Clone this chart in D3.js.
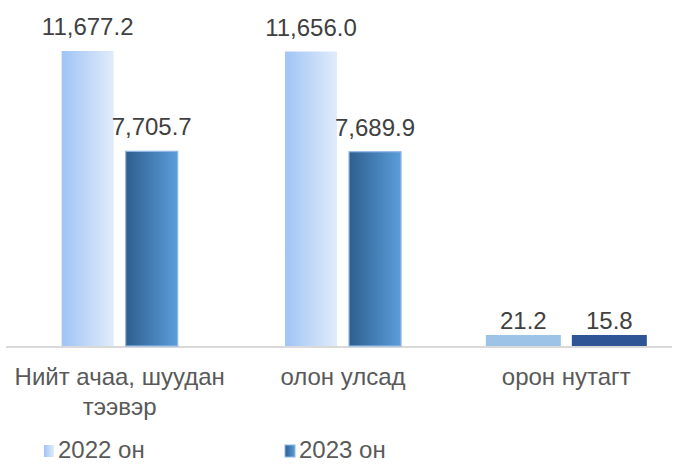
<!DOCTYPE html>
<html>
<head>
<meta charset="utf-8">
<script src="https://cdn.jsdelivr.net/npm/d3@7/dist/d3.min.js"></script>
<style>
  body { margin: 0; background: #fff; }
  svg { display: block; font-family: "Liberation Sans", Arial, sans-serif; }
</style>
</head>
<body>
<div id="chart"></div>
<script>
// --- Data ---
const categories = [["Нийт ачаа, шуудан", "тээвэр"], ["олон улсад"], ["орон нутагт"]];
const seriesNames = ["2022 он", "2023 он"];
const values2022 = [11677.2, 11656.0, 21.2];
const values2023 = [7705.7, 7689.9, 15.8];

// --- Layout ---
const W = 678, H = 464;
const BASE_Y = 346;
const TOP_Y = 51;
const BAR_W = 52, STUB_W = 75, BAR_GAP = 12;
const MIN_BAR_H = 11;

const svg = d3.select("#chart").append("svg")
    .attr("width", W)
    .attr("height", H);

const defs = svg.append("defs");
const grad22 = defs.append("linearGradient").attr("id", "g22");
grad22.append("stop").attr("offset", "0%").attr("stop-color", "#9fc4f6");
grad22.append("stop").attr("offset", "100%").attr("stop-color", "#e1ecfa");
const grad23 = defs.append("linearGradient").attr("id", "g23");
grad23.append("stop").attr("offset", "0%").attr("stop-color", "#2e5f8e");
grad23.append("stop").attr("offset", "100%").attr("stop-color", "#5b9ddb");

const x = d3.scaleBand()
    .domain(d3.range(categories.length))
    .range([8, 678]);

const y = d3.scaleLinear()
    .domain([0, d3.max(values2022)])
    .range([BASE_Y, TOP_Y]);

const fmt = d3.format(",.1f");

// axis baseline
svg.append("line")
    .attr("x1", 6).attr("x2", 672)
    .attr("y1", BASE_Y + 1).attr("y2", BASE_Y + 1)
    .attr("stroke", "#d9d9d9")
    .attr("stroke-width", 2);

const series = [
    { name: seriesNames[0], values: values2022, fill: "url(#g22)", flat: "#9dc3e6" },
    { name: seriesNames[1], values: values2023, fill: "url(#g23)", flat: "#2f5597" }
];

categories.forEach((cat, i) => {
    const cx = x(i) + x.bandwidth() / 2;
    series.forEach((s, k) => {
        const v = s.values[i];
        const h = BASE_Y - y(v);
        // very small values are drawn as flat, wider stubs (as in the source chart)
        const stub = h < MIN_BAR_H;
        const bw = stub ? STUB_W : BAR_W;
        const gap = stub ? 11 : BAR_GAP;
        const bx = k === 0 ? cx - gap / 2 - bw : cx + gap / 2;
        const bh = stub ? MIN_BAR_H : h;
        const by = BASE_Y - bh;

        svg.append("rect")
            .attr("x", bx).attr("y", by)
            .attr("width", bw).attr("height", bh)
            .attr("fill", stub ? s.flat : s.fill)
            .attr("stroke", (!stub && k === 1) ? "#8fb8e6" : "none")
            .attr("stroke-width", 1.2);

        svg.append("text")
            .attr("x", bx + bw / 2)
            .attr("y", by - (stub ? 6 : 16))
            .attr("text-anchor", "middle")
            .attr("font-size", 24)
            .attr("fill", "#404040")
            .text(fmt(v));
    });

    const t = svg.append("text")
        .attr("text-anchor", "middle")
        .attr("font-size", 24)
        .attr("fill", "#595959");
    cat.forEach((line, j) => {
        t.append("tspan")
            .attr("x", cx)
            .attr("y", 385 + j * 30)
            .text(line);
    });
});

// --- Legend ---
const legendX = [44, 285];
series.forEach((s, k) => {
    const g = svg.append("g").attr("transform", `translate(${legendX[k]}, 445)`);
    g.append("rect")
        .attr("width", 10).attr("height", 12)
        .attr("fill", s.fill)
        .attr("stroke", k === 1 ? "#8fb8e6" : "none");
    g.append("text")
        .attr("x", 14).attr("y", 13)
        .attr("font-size", 24)
        .attr("fill", "#595959")
        .text(s.name);
});
</script>
</body>
</html>
